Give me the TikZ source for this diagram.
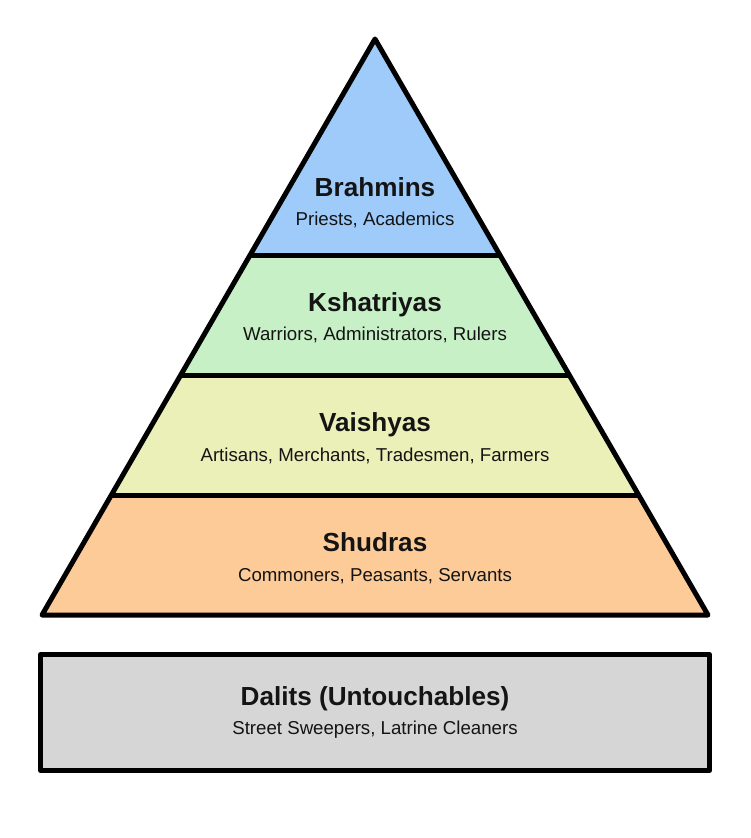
\documentclass[tikz,border=0pt]{standalone}
\usepackage{fontspec}
\setmainfont{Liberation Sans}
\definecolor{cBrah}{HTML}{9ECBF9}
\definecolor{cKsha}{HTML}{C7F0C7}
\definecolor{cVais}{HTML}{EBF0B8}
\definecolor{cShud}{HTML}{FDCB98}
\definecolor{cDali}{HTML}{D6D6D6}
\tikzset{
  band/.style={line width=3.75pt, line join=round, draw=black},
  ttl/.style={anchor=base, font=\fontsize{19.6}{21}\selectfont\bfseries, text=black!92, inner sep=0pt},
  sub/.style={anchor=base, font=\fontsize{14}{16}\selectfont, text=black!92, inner sep=0pt}
}
\begin{document}
\begin{tikzpicture}[x=0.75pt,y=-0.75pt]
\useasboundingbox[fill=white] (0,0) rectangle (750,838);
% bands
\coordinate (apex) at (375,39);
\coordinate (bl) at (42,615);
\coordinate (br) at (708,615);
\fill[cBrah] (apex) -- (499.875,255) -- (250.125,255) -- cycle;
\fill[cKsha] (250.125,255) -- (499.875,255) -- (569.25,375) -- (180.75,375) -- cycle;
\fill[cVais] (180.75,375) -- (569.25,375) -- (638.625,495) -- (111.375,495) -- cycle;
\fill[cShud] (111.375,495) -- (638.625,495) -- (br) -- (bl) -- cycle;
\draw[band] (apex) -- (br) -- (bl) -- cycle;
\draw[band] (250.125,255) -- (499.875,255);
\draw[band] (180.75,375) -- (569.25,375);
\draw[band] (111.375,495) -- (638.625,495);
% Dalits box
\draw[band, fill=cDali] (40.5,654.5) rectangle (709.5,770.5);
% texts
\node[ttl] (brahT) at (375,196) {Brahmins};
\node[sub] (brahS) at (375,225) {Priests, Academics};
\node[ttl] (kshaT) at (375,311) {Kshatriyas};
\node[sub] (kshaS) at (375,340) {Warriors, Administrators, Rulers};
\node[ttl] (vaisT) at (375,431) {Vaishyas};
\node[sub] (vaisS) at (375,461) {Artisans, Merchants, Tradesmen, Farmers};
\node[ttl] (shudT) at (375,551) {Shudras};
\node[sub] (shudS) at (375,581) {Commoners, Peasants, Servants};
\node[ttl] (daliT) at (375,705) {Dalits (Untouchables)};
\node[sub] (daliS) at (375,734) {Street Sweepers, Latrine Cleaners};
\end{tikzpicture}
\end{document}
